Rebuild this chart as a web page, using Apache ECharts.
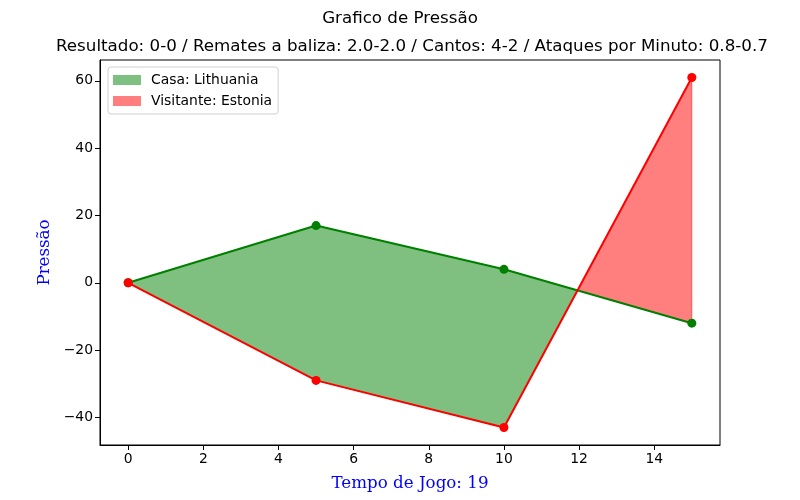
<!DOCTYPE html>
<html>
<head>
<meta charset="utf-8">
<script src="https://cdn.jsdelivr.net/npm/echarts@6/dist/echarts.min.js"></script>
<style>html,body{margin:0;padding:0;background:#fff}#c{width:800px;height:500px}</style>
</head>
<body>
<div id="c"></div>
<script>
const minutes = [0, 5, 10, 15];
const homeValues = [0, 17, 4, -12];
const awayValues = [0, -29, -43, 61];
const xTicks = [0, 2, 4, 6, 8, 10, 12, 14];
const yTicks = [-40, -20, 0, 20, 40, 60];
const homeName = 'Casa: Lithuania';
const awayName = 'Visitante: Estonia';
const mainTitle = 'Grafico de Pressão';
const subTitle = 'Resultado: 0-0 / Remates a baliza: 2.0-2.0 / Cantos: 4-2 / Ataques por Minuto: 0.8-0.7';
const xLabel = 'Tempo de Jogo: 19';
const yLabel = 'Pressão';

// polygons where a >= b (fill_between style, with interpolated crossings)
function regions(xs, a, b) {
  const polys = [];
  let top = [], bot = [];
  function close() {
    if (top.length > 1) polys.push(top.concat(bot.slice().reverse()));
    top = []; bot = [];
  }
  for (let i = 0; i < xs.length; i++) {
    const d = a[i] - b[i];
    if (d >= 0) { top.push([xs[i], a[i]]); bot.push([xs[i], b[i]]); }
    else { close(); }
    if (i < xs.length - 1) {
      const d2 = a[i + 1] - b[i + 1];
      if ((d > 0 && d2 < 0) || (d < 0 && d2 > 0)) {
        const t = d / (d - d2);
        const cx = xs[i] + t * (xs[i + 1] - xs[i]);
        const cy = a[i] + t * (a[i + 1] - a[i]);
        top.push([cx, cy]); bot.push([cx, cy]);
        if (d > 0) close();
      }
    }
  }
  close();
  return polys;
}

function fillSeries(name, a, b, color, edge) {
  return {
    name: name, type: 'custom', z: 1,
    itemStyle: { color: color },
    data: [[minutes[0], a[0]]],
    renderItem: function (params, api) {
      const polys = regions(minutes, a, b);
      return {
        type: 'group',
        children: polys.map(p => ({
          type: 'polygon',
          shape: { points: p.map(pt => api.coord(pt)) },
          style: { fill: color, stroke: edge, lineWidth: 1 }
        }))
      };
    }
  };
}

const fmt = v => String(v).replace('-', '\u2212');
const sans = 'DejaVu Sans';
const chart = echarts.init(document.getElementById('c'), null, { renderer: 'canvas' });
chart.setOption({
  animation: false,
  backgroundColor: '#fff',
  title: [
    { text: mainTitle, left: 'center', top: 10, padding: 0, textStyle: { fontFamily: sans, fontSize: 16.7, fontWeight: 'normal', color: '#000' } },
    { text: subTitle, left: 56, top: 38, padding: 0, textStyle: { fontFamily: sans, fontSize: 16.7, fontWeight: 'normal', color: '#000' } }
  ],
  grid: { left: 100, right: 80, top: 60, bottom: 55, show: true, borderColor: '#000', borderWidth: 1, backgroundColor: 'transparent' },
  legend: {
    orient: 'vertical', left: 108, top: 67, padding: [6, 6, 6, 5],
    data: [{ name: homeName, icon: 'rect' }, { name: awayName, icon: 'rect' }],
    itemWidth: 28, itemHeight: 10, itemGap: 7,
    backgroundColor: '#fff', borderColor: '#d0d0d0', borderWidth: 1, borderRadius: 3,
    textStyle: { fontFamily: sans, fontSize: 13.9, color: '#000', padding: [0, 0, 0, 5] }
  },
  xAxis: {
    type: 'value', min: -0.75, max: 15.75,
    name: xLabel, nameLocation: 'middle', nameGap: 30,
    nameTextStyle: { fontFamily: 'DejaVu Serif', fontSize: 16.7, color: 'blue' },
    axisLine: { show: true, onZero: false, lineStyle: { color: '#000' } },
    axisTick: { show: true, length: 5, lineStyle: { color: '#000' }, customValues: xTicks },
    axisLabel: { fontFamily: sans, fontSize: 13.9, color: '#000', margin: 7, customValues: xTicks, formatter: fmt },
    splitLine: { show: false }
  },
  yAxis: {
    type: 'value', min: -48.2, max: 66.2,
    name: yLabel, nameLocation: 'middle', nameGap: 45, nameRotate: 90,
    nameTextStyle: { fontFamily: 'DejaVu Serif', fontSize: 16.7, color: 'blue' },
    axisLine: { show: true, onZero: false, lineStyle: { color: '#000' } },
    axisTick: { show: true, length: 5, lineStyle: { color: '#000' }, customValues: yTicks },
    axisLabel: { fontFamily: sans, fontSize: 13.9, color: '#000', margin: 7, customValues: yTicks, formatter: fmt },
    splitLine: { show: false }
  },
  series: [
    fillSeries(homeName, homeValues, awayValues, 'rgba(0,128,0,0.5)', 'rgba(0,128,0,0.5)'),
    fillSeries(awayName, awayValues, homeValues, 'rgba(255,0,0,0.5)', 'rgba(255,0,0,0.5)'),
    {
      name: 'homeLine', type: 'line', z: 3,
      data: minutes.map((m, i) => [m, homeValues[i]]),
      symbol: 'circle', symbolSize: 9, showAllSymbol: true,
      lineStyle: { color: 'green', width: 2 }, itemStyle: { color: 'green' }
    },
    {
      name: 'awayLine', type: 'line', z: 4,
      data: minutes.map((m, i) => [m, awayValues[i]]),
      symbol: 'circle', symbolSize: 9, showAllSymbol: true,
      lineStyle: { color: 'red', width: 2 }, itemStyle: { color: 'red' }
    }
  ]
});
</script>
</body>
</html>
